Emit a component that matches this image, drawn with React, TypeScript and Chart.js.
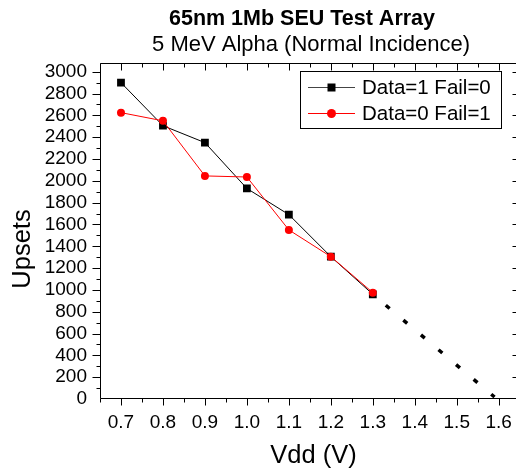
import React, { useEffect, useRef } from "react";
import { Chart, registerables } from "chart.js";

Chart.register(...registerables);

// ---- data ----
const vdd = [0.7, 0.8, 0.9, 1.0, 1.1, 1.2, 1.3];
const upsetsData1Fail0 = [2900, 2505, 2350, 1930, 1690, 1305, 960];
const upsetsData0Fail1 = [2625, 2550, 2045, 2035, 1550, 1305, 975];
// dotted extrapolation
const extrapVdd = [1.3, 1.59];
const extrapUpsets = [960, 18];

const xTicks = [0.7, 0.8, 0.9, 1.0, 1.1, 1.2, 1.3, 1.4, 1.5, 1.6];
const yTicks = [0, 200, 400, 600, 800, 1000, 1200, 1400, 1600, 1800, 2000, 2200, 2400, 2600, 2800, 3000];

const titleText = "65nm 1Mb SEU Test Array";
const subtitleText = "5 MeV Alpha (Normal Incidence)";
const xTitle = "Vdd (V)";
const yTitle = "Upsets";
const legendLabels = ["Data=1 Fail=0", "Data=0 Fail=1"];

const FONT = "'Liberation Sans', Arial, Helvetica, sans-serif";

const framePlugin = {
  id: "frameTicks",
  beforeDatasetsDraw(chart: any) {
    const { ctx, chartArea: ca } = chart;
    const xs = chart.scales.x;
    const ys = chart.scales.y;
    const L = Math.round(ca.left) + 0.5;
    const R = Math.round(ca.right) + 0.5;
    const T = Math.round(ca.top) + 0.5;
    const B = Math.round(ca.bottom) - 0.5;
    ctx.save();
    ctx.strokeStyle = "#000";
    ctx.lineWidth = 1;
    ctx.beginPath();
    ctx.moveTo(L, T);
    ctx.lineTo(R, T);
    ctx.lineTo(R, B);
    ctx.lineTo(L, B);
    ctx.closePath();
    ctx.stroke();
    const xMaj = xs.ticks.map((t: any) => t.value);
    const xMin: number[] = [];
    for (let i = 0; i < xMaj.length - 1; i++) xMin.push((xMaj[i] + xMaj[i + 1]) / 2);
    xMin.push(xMaj[0] - (xMaj[1] - xMaj[0]) / 2);
    xMin.push(xMaj[xMaj.length - 1] + (xMaj[1] - xMaj[0]) / 2);
    const yMaj = ys.ticks.map((t: any) => t.value);
    const yMin: number[] = [];
    for (let i = 0; i < yMaj.length - 1; i++) yMin.push((yMaj[i] + yMaj[i + 1]) / 2);
    ctx.beginPath();
    const xTick = (v: number, len: number) => {
      const p = Math.round(xs.getPixelForValue(v)) + 0.5;
      if (p < L - 0.1 || p > R + 0.1) return;
      ctx.moveTo(p, B);
      ctx.lineTo(p, B + len);
      ctx.moveTo(p, T);
      ctx.lineTo(p, T + len);
    };
    const yTick = (v: number, len: number) => {
      const p = Math.round(ys.getPixelForValue(v)) + 0.5;
      if (p < T - 0.1 || p > B + 0.1) return;
      ctx.moveTo(L, p);
      ctx.lineTo(L - len, p);
      ctx.moveTo(R, p);
      ctx.lineTo(R - len, p);
    };
    xMaj.forEach((v: number) => xTick(v, 7));
    xMin.forEach((v: number) => xTick(v, 4));
    yMaj.forEach((v: number) => yTick(v, 8));
    yMin.forEach((v: number) => yTick(v, 4));
    ctx.stroke();
    ctx.restore();
  },
};

const textPlugin = {
  id: "texts",
  afterDraw(chart: any) {
    const { ctx } = chart;
    ctx.save();
    ctx.fillStyle = "#000";
    ctx.textBaseline = "alphabetic";
    ctx.textAlign = "center";
    ctx.font = `bold 21.5px ${FONT}`;
    ctx.fillText(titleText, 302, 25);
    ctx.font = `22px ${FONT}`;
    ctx.fillText(subtitleText, 311, 51);
    ctx.font = `25.5px ${FONT}`;
    ctx.fillText(xTitle, 313.5, 463);
    ctx.save();
    ctx.translate(30, 249);
    ctx.rotate(-Math.PI / 2);
    ctx.fillText(yTitle, 0, 0);
    ctx.restore();

    // legend
    const bx = 300.5, by = 71.5, bw = 201, bh = 57;
    ctx.fillStyle = "#fff";
    ctx.fillRect(bx, by, bw, bh);
    ctx.strokeStyle = "#000";
    ctx.lineWidth = 1;
    ctx.strokeRect(bx, by, bw, bh);
    const rows = [87, 113];
    // row 1
    ctx.strokeStyle = "#444";
    ctx.beginPath();
    ctx.moveTo(308, rows[0] + 0.5);
    ctx.lineTo(355, rows[0] + 0.5);
    ctx.stroke();
    ctx.fillStyle = "#000";
    ctx.fillRect(327.5, rows[0] - 3.5, 8, 8);
    // row 2
    ctx.strokeStyle = "#ff0000";
    ctx.beginPath();
    ctx.moveTo(308, rows[1] + 0.5);
    ctx.lineTo(355, rows[1] + 0.5);
    ctx.stroke();
    ctx.fillStyle = "#ff0000";
    ctx.beginPath();
    ctx.arc(331.5, rows[1] + 0.5, 4.5, 0, Math.PI * 2);
    ctx.fill();
    ctx.fillStyle = "#000";
    ctx.textAlign = "left";
    ctx.textBaseline = "middle";
    ctx.font = `20.5px ${FONT}`;
    ctx.fillText(legendLabels[0], 362, rows[0] + 1);
    ctx.fillText(legendLabels[1], 362, rows[1] + 1);
    ctx.restore();
  },
};

export default function App() {
  const ref = useRef<HTMLCanvasElement>(null);
  useEffect(() => {
    if (!ref.current) return;
    const chart = new Chart(ref.current, {
      type: "line",
      data: {
        datasets: [
          {
            label: legendLabels[1],
            data: vdd.map((x, i) => ({ x, y: upsetsData0Fail1[i] })),
            borderColor: "#ff0000",
            backgroundColor: "#ff0000",
            borderWidth: 1,
            pointStyle: "circle",
            pointRadius: 4,
            pointBorderWidth: 0,
            order: 0,
          },
          {
            label: legendLabels[0],
            data: vdd.map((x, i) => ({ x, y: upsetsData1Fail0[i] })),
            borderColor: "#000",
            backgroundColor: "#000",
            borderWidth: 1,
            pointStyle: "rect",
            pointRadius: 5.5,
            pointBorderWidth: 0,
            order: 1,
          },
          {
            label: "extrapolation",
            data: extrapVdd.map((x, i) => ({ x, y: extrapUpsets[i] })),
            borderColor: "#000",
            borderWidth: 3.5,
            borderDash: [5, 18],
            borderDashOffset: 6,
            borderCapStyle: "butt",
            pointRadius: 0,
            order: 2,
          },
        ],
      },
      options: {
        animation: false,
        responsive: false,
        devicePixelRatio: 1,
        layout: { padding: { left: 0, top: 63, right: 20.3, bottom: 0 } },
        plugins: { legend: { display: false }, tooltip: { enabled: false }, title: { display: false } },
        elements: { line: { tension: 0 } },
        scales: {
          x: {
            type: "linear",
            min: 0.65,
            max: 1.65,
            grid: { display: false, drawTicks: false },
            border: { display: false },
            afterBuildTicks: (s: any) => {
              s.ticks = xTicks.map((v) => ({ value: v }));
            },
            afterFit: (s: any) => {
              s.height = 73;
            },
            ticks: {
              color: "#000",
              font: { family: FONT, size: 19 },
              padding: 12,
              maxRotation: 0,
              autoSkip: false,
              callback: (v: any) => Number(v).toFixed(1),
            },
          },
          y: {
            type: "linear",
            min: 0,
            max: 3080,
            grid: { display: false, drawTicks: false },
            border: { display: false },
            afterBuildTicks: (s: any) => {
              s.ticks = yTicks.map((v) => ({ value: v }));
            },
            afterFit: (s: any) => {
              s.width = 100;
            },
            ticks: {
              color: "#000",
              font: { family: FONT, size: 19 },
              padding: 13,
              autoSkip: false,
              callback: (v: any) => String(v),
            },
          },
        },
      },
      plugins: [framePlugin, textPlugin],
    } as any);
    return () => chart.destroy();
  }, []);
  return (
    <div
      style={{
        position: "fixed",
        left: 0,
        top: 0,
        width: 516,
        height: 472,
        overflow: "hidden",
        background: "#fff",
      }}
    >
      <canvas ref={ref} width={540} height={472} style={{ display: "block" }} />
    </div>
  );
}
